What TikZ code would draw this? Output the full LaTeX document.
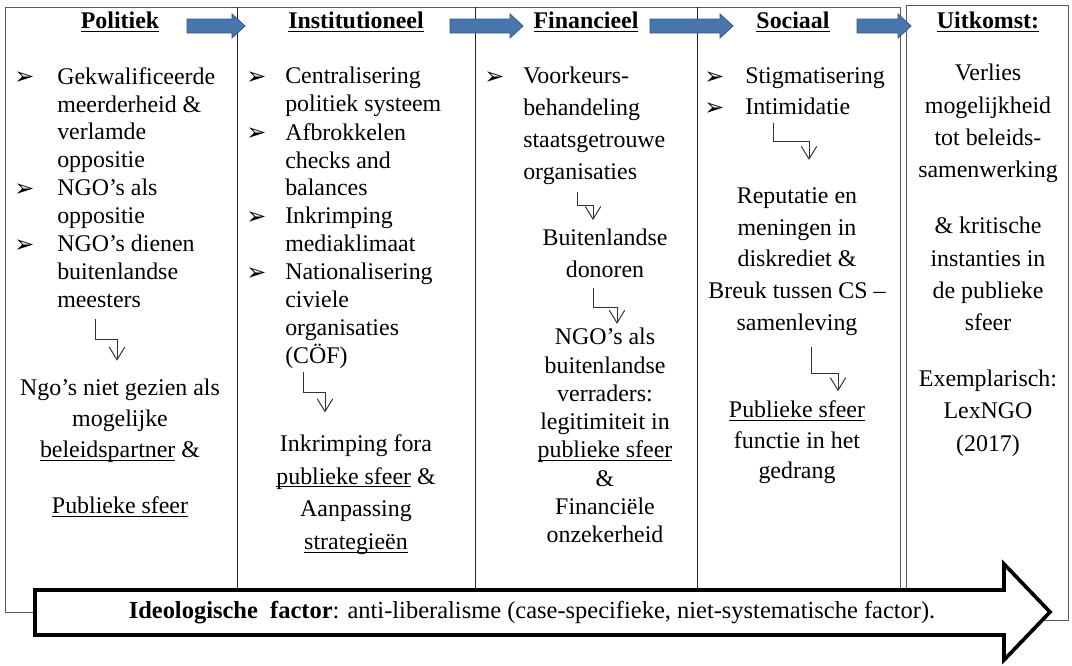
\documentclass[tikz,border=0pt]{standalone}
\usepackage{fontspec}
\setmainfont{Liberation Serif}
\newfontfamily\pijlfont{DejaVu Sans}
\usepackage{tikz}
\usetikzlibrary{arrows.meta,calc}

\definecolor{blauwvlak}{HTML}{4A76AE}
\definecolor{blauwrand}{HTML}{35598A}

\newsavebox\onderbox
\newcommand\onder[1]{\sbox\onderbox{#1}\rlap{\rule[-2.4pt]{\wd\onderbox}{0.7pt}}\usebox\onderbox}

\tikzset{
   regel/.style={font=\fontsize{17}{#1}\selectfont},
   kop/.style={font=\fontsize{17}{20}\selectfont\bfseries, anchor=north, inner sep=0pt},
   punt/.style={regel=19.84pt, anchor=north west, align=left, inner sep=0pt},
   gevolg/.style={anchor=north, align=center, inner sep=0pt},
   bol/.style={font=\pijlfont\fontsize{17}{17}\selectfont, anchor=base west, inner sep=0pt},
   kader/.style={draw=black!65, line width=0.7pt},
   scheiding/.style={draw=black!85, line width=0.6pt},
   knik/.style={draw=black!80, line width=0.7pt, -{Straight Barb[length=9pt,width=11pt]}},
   blokpijl/.style={fill=blauwvlak, draw=blauwrand, line width=0.6pt,
      to path={($(\tikztostart)+(0,-7)$) -- ($(\tikztotarget)+(-13,-7)$)
         -- ($(\tikztotarget)+(-13,-12)$) -- (\tikztotarget)
         -- ($(\tikztotarget)+(-13,12)$) -- ($(\tikztotarget)+(-13,7)$)
         -- ($(\tikztostart)+(0,7)$) -- cycle}}
}

\begin{document}
\begin{tikzpicture}[x=0.025cm,y=-0.025cm]
   \useasboundingbox (0,0) rectangle (1072,665);
   %kaders
   \draw[kader] (35,612) -- (5,612) -- (5,7) -- (900,7) -- (900,612);
   \foreach \x in {237,475,697}
      \draw[scheiding] (\x,7) -- (\x,612);
   \draw[kader] (906,5) rectangle (1068,620);
   %koppen
   \node[kop] (h1) at (120,12) {\onder{Politiek}};
   \node[kop] (h2) at (356,12) {\onder{Institutioneel}};
   \node[kop] (h3) at (586,12) {\onder{Financieel}};
   \node[kop] (h4) at (793,12) {\onder{Sociaal}};
   \node[kop] (h5) at (988,12) {\onder{Uitkomst:}};
   %pijlen tussen de koppen
   \coordinate (f1a) at (187,26); \coordinate (f1b) at (245,26);
   \coordinate (f2a) at (450,26); \coordinate (f2b) at (523,26);
   \coordinate (f3a) at (650,26); \coordinate (f3b) at (733,26);
   \coordinate (f4a) at (857,26); \coordinate (f4b) at (911,26);
   \draw[blokpijl] (f1a) to (f1b);
   \draw[blokpijl] (f2a) to (f2b);
   \draw[blokpijl] (f3a) to (f3b);
   \draw[blokpijl] (f4a) to (f4b);
   %opsommingstekens
   \foreach \x/\y in {14/77,14/189,14/245,246/77,246/133,246/217,246/273,484/77,704/77,704/108}
      \node[bol] (b-\x-\y) at (\x,\y+7) {➢};
   %politiek
   \node[punt] (c1a) at (57,67) {Gekwalificeerde\\meerderheid \&\\verlamde\\oppositie};
   \node[punt] (c1b) at (57,179) {NGO’s als\\oppositie};
   \node[punt] (c1c) at (57,235) {NGO’s dienen\\buitenlandse\\meesters};
   \node[gevolg, regel=22pt] (c1r) at (120,379) {Ngo’s niet gezien als\\mogelijke\\\onder{beleidspartner} \&\\[17.7pt]\onder{Publieke sfeer}};
   \draw[knik] (c1c.south -| 95,0) ++(0,10.5) -- ++(0,21) -| ++(22,21);
   %institutioneel
   \node[punt] (c2a) at (285,67) {Centralisering\\politiek systeem};
   \node[punt] (c2b) at (285,123) {Afbrokkelen\\checks and\\balances};
   \node[punt] (c2c) at (285,207) {Inkrimping\\mediaklimaat};
   \node[punt] (c2d) at (285,263) {Nationalisering\\civiele\\organisaties\\(CÖF)};
   \node[gevolg, regel=23.4pt] (c2r) at (356,434) {Inkrimping fora\\\onder{publieke sfeer} \&\\Aanpassing\\\onder{strategieën}};
   \draw[knik] (c2d.south -| 303,0) ++(0,3.5) -- ++(0,20) -| ++(22,20);
   %financieel
   \node[punt, regel=22.7pt] (c3a) at (523,67) {Voorkeurs-\\behandeling\\staatsgetrouwe\\organisaties};
   \node[gevolg, regel=22.7pt] (c3b) at (605,229) {Buitenlandse\\donoren};
   \node[gevolg, regel=20.1pt] (c3c) at (605,328) {NGO’s als\\buitenlandse\\verraders:\\legitimiteit in\\\onder{publieke sfeer}\\\&\\Financiële\\onzekerheid};
   \draw[knik] (c3a.south -| 577,0) ++(0,7) -- ++(0,13) -| ++(16,15);
   \draw[knik] (c3b.south -| 593,0) ++(0,9.5) -- ++(0,20) -| ++(24,16);
   %sociaal
   \node[punt] (c4a) at (745,67) {Stigmatisering};
   \node[punt] (c4b) at (745,98) {Intimidatie};
   \node[gevolg, regel=22.7pt] (c4r) at (797,187) {Reputatie en\\meningen in\\diskrediet \&\\Breuk tussen CS –\\samenleving};
   \node[gevolg, regel=22pt] (c4s) at (797,400) {\onder{Publieke sfeer}\\functie in het\\gedrang};
   \draw[knik] (c4b.south -| 773,0) ++(0,7.5) -- ++(0,19) -| ++(36,18);
   \draw[knik] (c4r.south -| 811,0) ++(0,11) -- ++(0,26) -| ++(27,18);
   %uitkomst
   \node[gevolg, regel=23pt] (c5) at (988,64) {Verlies\\mogelijkheid\\tot beleids-\\samenwerking\\[16.7pt]\& kritische\\instanties in\\de publieke\\sfeer\\[16.7pt]Exemplarisch:\\LexNGO\\(2017)};
   %ideologische factor
   \draw[line width=2.6pt, fill=white, line join=miter] (35,590) -- (1004,590) -- (1004,564)
      -- (1050,612) -- (1004,660) -- (1004,635) -- (35,635) -- cycle;
   \node[font=\fontsize{17.4}{20}\selectfont, anchor=base, inner sep=0pt] (ideo) at (532,618)
      {\textbf{Ideologische~ factor}: anti-liberalisme (case-specifieke, niet-systematische factor).};
\end{tikzpicture}
\end{document}
